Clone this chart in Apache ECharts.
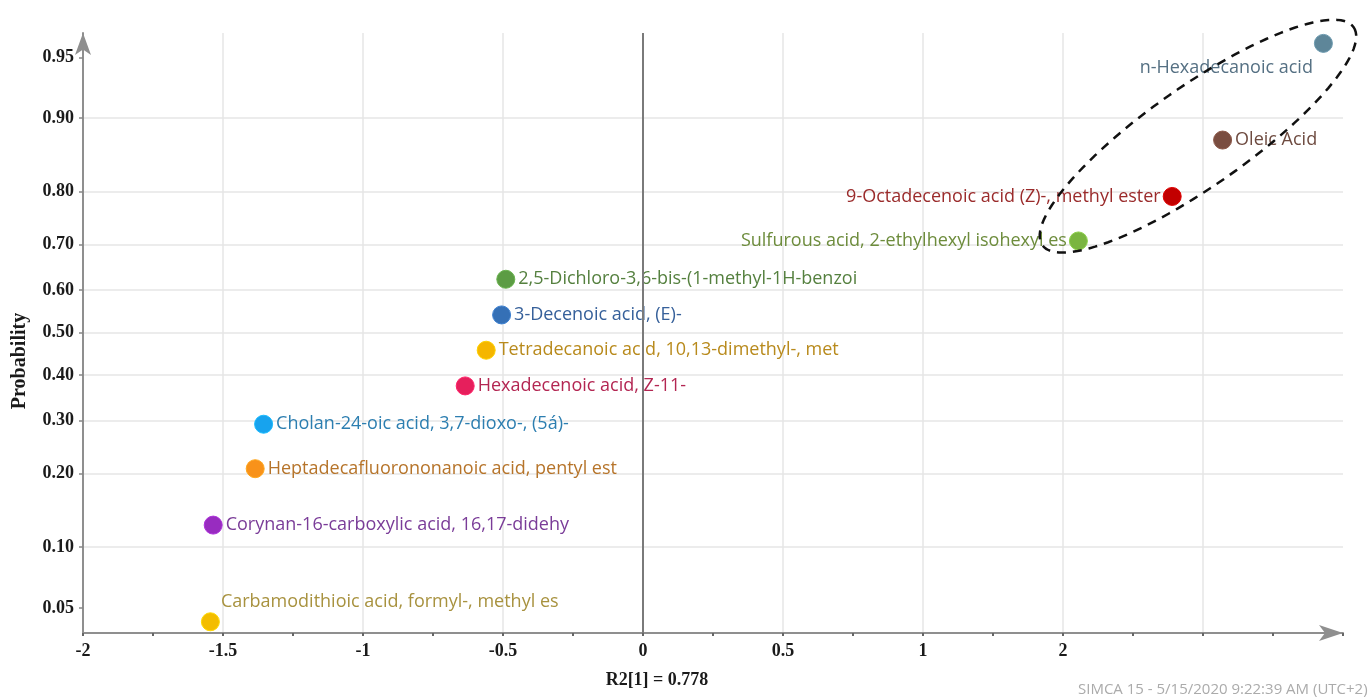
<!DOCTYPE html>
<html>
<head>
<meta charset="utf-8">
<title>Normal probability plot</title>
<script src="https://cdn.jsdelivr.net/npm/echarts@6/dist/echarts.min.js"></script>
<style>
  html, body { margin: 0; padding: 0; background: #ffffff; }
  #chart { width: 1370px; height: 700px; }
</style>
</head>
<body>
<div id="chart"></div>
<script>
// Compounds, their R2[1] scores and plotting probabilities
const compounds = [
  'n-Hexadecanoic acid',
  'Oleic Acid',
  '9-Octadecenoic acid (Z)-, methyl ester',
  'Sulfurous acid, 2-ethylhexyl isohexyl es',
  '2,5-Dichloro-3,6-bis-(1-methyl-1H-benzoi',
  '3-Decenoic acid, (E)-',
  'Tetradecanoic acid, 10,13-dimethyl-, met',
  'Hexadecenoic acid, Z-11-',
  'Cholan-24-oic acid, 3,7-dioxo-, (5á)-',
  'Heptadecafluorononanoic acid, pentyl est',
  'Corynan-16-carboxylic acid, 16,17-didehy',
  'Carbamodithioic acid, formyl-, methyl es'
];
const scores = [2.43, 2.07, 1.89, 1.555, -0.49, -0.505, -0.56, -0.635, -1.355, -1.385, -1.535, -1.545];
const probabilities = [0.958, 0.875, 0.792, 0.708, 0.625, 0.542, 0.458, 0.375, 0.292, 0.208, 0.125, 0.042];

// Probability axis ticks
const yTickProbs = [0.05, 0.10, 0.20, 0.30, 0.40, 0.50, 0.60, 0.70, 0.80, 0.90, 0.95];
const yTickLabels = ['0.05', '0.10', '0.20', '0.30', '0.40', '0.50', '0.60', '0.70', '0.80', '0.90', '0.95'];

// Score axis labels
const xTickValues = [-2, -1.5, -1, -0.5, 0, 0.5, 1, 1.5];
const xTickLabels = ['-2', '-1.5', '-1', '-0.5', '0', '0.5', '1', '2'];

// Marker and label colours
const pointColors = ['#5e8699', '#7a4d40', '#c20000', '#7ab540', '#5c9c44', '#3570b6',
                     '#f5b600', '#e61f5c', '#17a3ee', '#f8921a', '#982cc0', '#f3bd00'];
const labelColors = ['#557083', '#6e4b40', '#9a2b2b', '#6d8c3c', '#55803f', '#36609a',
                     '#b88a1c', '#b32652', '#2c7eb0', '#b6742a', '#7a3c98', '#a8923f'];

// Probability scale: inverse of the standard normal CDF (Acklam)
function probit(p) {
  const a = [-3.969683028665376e+01, 2.209460984245205e+02, -2.759285104469687e+02,
             1.383577518672690e+02, -3.066479806614716e+01, 2.506628277459239e+00];
  const b = [-5.447609879822406e+01, 1.615858368580409e+02, -1.556989798598866e+02,
             6.680131188771972e+01, -1.328068155288572e+01];
  const c = [-7.784894002430293e-03, -3.223964580411365e-01, -2.400758277161838e+00,
             -2.549732539343734e+00, 4.374664141464968e+00, 2.938163982698783e+00];
  const d = [7.784695709041462e-03, 3.224671290700398e-01, 2.445134137142996e+00,
             3.754408661907416e+00];
  const pl = 0.02425, ph = 1 - pl;
  let q, r;
  if (p < pl) {
    q = Math.sqrt(-2 * Math.log(p));
    return (((((c[0]*q+c[1])*q+c[2])*q+c[3])*q+c[4])*q+c[5]) / ((((d[0]*q+d[1])*q+d[2])*q+d[3])*q+1);
  }
  if (p <= ph) {
    q = p - 0.5; r = q * q;
    return (((((a[0]*r+a[1])*r+a[2])*r+a[3])*r+a[4])*r+a[5])*q / (((((b[0]*r+b[1])*r+b[2])*r+b[3])*r+b[4])*r+1);
  }
  q = Math.sqrt(-2 * Math.log(1 - p));
  return -(((((c[0]*q+c[1])*q+c[2])*q+c[3])*q+c[4])*q+c[5]) / ((((d[0]*q+d[1])*q+d[2])*q+d[3])*q+1);
}

const yTickValues = yTickProbs.map(probit);

function lookupLabel(values, labels, v) {
  for (let i = 0; i < values.length; i++) {
    if (Math.abs(values[i] - v) < 1e-6) return labels[i];
  }
  return '';
}

// Where each label sits relative to its marker (marker box is 18 x 18)
const labelPlacement = {
  0: { position: [-1, 34], align: 'right', verticalAlign: 'middle' },
  2: { position: 'left', distance: 2 },
  3: { position: 'left', distance: 2 },
  11: { position: [20, -10], align: 'left', verticalAlign: 'middle' }
};

const points = compounds.map((name, i) => {
  const place = labelPlacement[i] || { position: 'right', distance: 3 };
  return {
    name: name,
    value: [scores[i], probit(probabilities[i])],
    itemStyle: {
      color: pointColors[i],
      borderColor: echarts.color.lift(pointColors[i], -0.15),
      borderWidth: 1,
      opacity: 1
    },
    label: Object.assign({ color: labelColors[i] }, place)
  };
});

const AXIS_GREY = '#8f8f8f';
const GRID_GREY = '#e6e6e6';
const SERIF = '"Liberation Serif", "Times New Roman", serif';

const chart = echarts.init(document.getElementById('chart'), null, { renderer: 'canvas' });

chart.setOption({
  backgroundColor: '#ffffff',
  animation: false,
  grid: { left: 83, right: 27, top: 33, bottom: 67, containLabel: false, outerBoundsMode: 'none' },
  xAxis: {
    type: 'value',
    min: -2,
    max: 2.5,
    interval: 0.5,
    axisLine: {
      show: true, onZero: false,
      lineStyle: { color: AXIS_GREY, width: 2 },
      symbol: ['none', 'arrow'], symbolSize: [12, 24], symbolOffset: [0, 0]
    },
    axisTick: { show: true, length: 3, inside: false, lineStyle: { color: '#666', width: 2 } },
    minorTick: { show: true, splitNumber: 2, length: 3, lineStyle: { color: '#666', width: 2 } },
    splitLine: { show: true, showMinLine: false, showMaxLine: false, lineStyle: { color: GRID_GREY, width: 1.5 } },
    axisLabel: {
      customValues: xTickValues,
      formatter: v => lookupLabel(xTickValues, xTickLabels, v),
      margin: 9,
      fontFamily: SERIF, fontWeight: 'bold', fontSize: 18, color: '#1a1a1a'
    }
  },
  yAxis: {
    type: 'value',
    min: -1.795,
    max: 1.79,
    axisLine: {
      show: true, onZero: false,
      lineStyle: { color: AXIS_GREY, width: 2 },
      symbol: ['none', 'arrow'], symbolSize: [12, 22], symbolOffset: [0, 0]
    },
    axisTick: { show: true, customValues: yTickValues, length: 4, lineStyle: { color: '#888', width: 1.5 } },
    splitLine: { show: true, showMinLine: false, showMaxLine: false, lineStyle: { color: GRID_GREY, width: 1.5 } },
    axisLabel: {
      customValues: yTickValues,
      formatter: v => lookupLabel(yTickValues, yTickLabels, v),
      margin: 9,
      fontFamily: SERIF, fontWeight: 'bold', fontSize: 18, color: '#1a1a1a'
    }
  },
  series: [{
    type: 'scatter',
    symbol: 'circle',
    symbolSize: 18,
    data: points,
    itemStyle: { opacity: 1 },
    label: {
      show: true,
      formatter: '{b}',
      fontFamily: '"Open Sans", "Noto Sans", sans-serif',
      fontSize: 18
    },
    labelLayout: { hideOverlap: false },
    markLine: {
      silent: true,
      symbol: 'none',
      label: { show: false },
      lineStyle: { color: '#7a7a7a', width: 2, type: 'solid' },
      data: [{ xAxis: 0 }]
    },
    z: 3
  }]
});

// Dashed ellipse grouping the high-scoring compounds
const ellipseCentre = chart.convertToPixel({ gridIndex: 0 }, [1.982, probit(0.8797)]);
const ellipseA = 190, ellipseB = 50, ellipseTilt = 35 * Math.PI / 180;
const ux = Math.cos(ellipseTilt), uy = -Math.sin(ellipseTilt);
const nx = Math.sin(ellipseTilt), ny = Math.cos(ellipseTilt);
const ellipsePoints = [];
for (let k = 0; k < 120; k++) {
  const t = (k / 120) * Math.PI * 2;
  const ea = ellipseA * Math.cos(t), eb = ellipseB * Math.sin(t);
  ellipsePoints.push([ellipseCentre[0] + ea * ux + eb * nx, ellipseCentre[1] + ea * uy + eb * ny]);
}

chart.setOption({
  graphic: [
    {
      type: 'polygon',
      shape: { points: ellipsePoints },
      style: { fill: 'none', stroke: '#111111', lineWidth: 2.5, lineDash: [9, 7] },
      silent: true,
      z: 10
    },
    {
      type: 'text',
      x: 657, y: 680,
      style: {
        text: 'R2[1] = 0.778',
        font: 'bold 18px ' + SERIF,
        fill: '#1a1a1a',
        align: 'center', verticalAlign: 'middle'
      }
    },
    {
      type: 'text',
      x: 20, y: 361,
      rotation: Math.PI / 2,
      style: {
        text: 'Probability',
        font: 'bold 20px ' + SERIF,
        fill: '#1a1a1a',
        align: 'center', verticalAlign: 'middle'
      }
    },
    {
      type: 'text',
      x: 1078, y: 690,
      style: {
        text: 'SIMCA 15 - 5/15/2020 9:22:39 AM (UTC+2)',
        font: '15px "Open Sans", "Noto Sans", sans-serif',
        fill: '#ababab',
        align: 'left', verticalAlign: 'middle'
      }
    }
  ]
});
</script>
</body>
</html>
